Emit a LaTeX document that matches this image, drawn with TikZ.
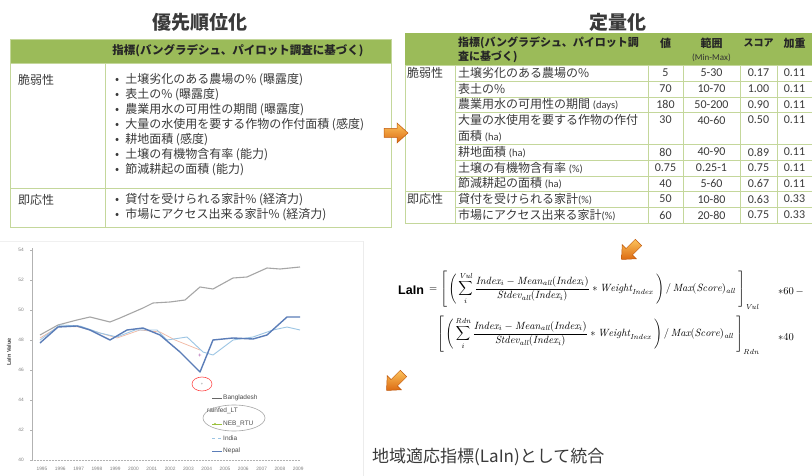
\RequirePackage{fix-cm}
\documentclass[tikz,border=0pt]{standalone}
\usepackage{fontspec}
\usetikzlibrary{shapes.geometric}
\newfontfamily\jp{Noto Sans CJK JP}
\newfontfamily\carl{Carlito}
\newfontfamily\lsans{Liberation Sans}
\definecolor{hdrgreen}{HTML}{9BBB59}
\definecolor{gridc}{HTML}{C4D79B}
\definecolor{txt}{HTML}{3A3A3A}
\definecolor{arrlight}{HTML}{FCC35C}
\definecolor{arrdark}{HTML}{DC6A12}
\definecolor{arredge}{HTML}{C0580C}
\definecolor{gray1}{HTML}{A6A6A6}
\definecolor{blue1}{HTML}{5B7DB8}
\definecolor{blue2}{HTML}{9CC5E4}
\definecolor{salmon}{HTML}{F2B8A2}
\definecolor{green1}{HTML}{9BC13C}
\newcommand{\lat}[1]{{\carl\fontsize{10.5}{12}\selectfont #1}}
\newcommand{\strutA}{\rule[-17pt]{0pt}{37pt}}
\newcommand{\strutB}{\rule[-13pt]{0pt}{29pt}}
\newcommand{\mi}[1]{\mathit{#1}}
\newcommand{\orarrow}[4]{%
  \begin{scope}[shift={(#2,#3)}, rotate=#4]
    \path[draw=arredge, line width=0.5pt, top color=arrlight, bottom color=arrdark]
      (-12,-4.5) -- (1,-4.5) -- (1,-10) -- (12,0) -- (1,10) -- (1,4.5) -- (-12,4.5) -- cycle;
    \coordinate (#1) at (0,0);
  \end{scope}}
\newcommand{\rrow}[7]{%
  \node[cell] (#1i) at (458,#2) {#3};
  \node[rnum] (#1v) at (665.5,#2) {#4};
  \node[rnum] (#1r) at (711.5,#2) {#5};
  \node[rnum] (#1s) at (758.5,#2) {#6};
  \node[rnum] (#1w) at (794.5,#2) {#7};}
\newcommand{\fbody}[1]{\left[\strutA\left(\strutB\displaystyle\sum_{i}^{\mi{#1}}\frac{\mi{Index}_i-\mi{Mean}_{\mi{all}}(\mi{Index}_i)}{\mi{Stdev}_{\mi{all}}(\mi{Index}_i)}*\mi{Weight}_{\mi{Index}}\;\right)/\,\mi{Max}(\mi{Score})_{\mi{all}}\;\right]_{\mi{#1}}}
\begin{document}
\begin{tikzpicture}[x=1pt, y=-1pt,
  title/.style={font=\jp\bfseries\fontsize{19}{21}\selectfont, text=txt, inner sep=0pt},
  hdr/.style={font=\jp\bfseries\fontsize{11}{13}\selectfont, text=black!85, inner sep=0pt},
  cell/.style={font=\jp\fontsize{12}{14}\selectfont, text=txt, inner sep=0pt, anchor=west},
  rnum/.style={font=\carl\fontsize{12}{14}\selectfont, text=txt, inner sep=0pt},
  tline/.style={draw=gridc, line width=0.8pt},
  ax/.style={font=\lsans\fontsize{4.8}{5}\selectfont, text=gray, inner sep=0pt},
  leg/.style={font=\lsans\fontsize{6.5}{7}\selectfont, text=black!70, inner sep=0pt, anchor=west},
  fml/.style={anchor=west, inner sep=0pt, font=\fontsize{10.5}{12}\selectfont},
]
\useasboundingbox[fill=white] (0,0) rectangle (812,476);

% ---------- left table ----------
\node[title] (t1) at (200,22) {優先順位化};
\fill[hdrgreen] (10,39) rectangle (391,63);
\draw[tline] (10,39) rectangle (391,227);
\draw[tline] (10,63) -- (391,63);
\draw[tline] (105,63) -- (105,227);
\draw[tline] (10,188) -- (391,188);
\node[hdr, font=\jp\bfseries\fontsize{11.5}{13}\selectfont] (lh) at (238,51) {指標(バングラデシュ、パイロット調査に基づく)};
\node[cell] (lv) at (18,80) {脆弱性};
\node[cell] (lr) at (18,200) {即応性};
\foreach \t [count=\k] in {土壌劣化のある農場の\% (曝露度), 表土の\% (曝露度), 農業用水の可用性の期間 (曝露度), 大量の水使用を要する作物の作付面積 (感度), 耕地面積 (感度), 土壌の有機物含有率 (能力), 節減耕起の面積 (能力)}
  \node[cell] (lb\k) at (115,{80+15*(\k-1)}) {\textbullet\hspace{6pt}\t};
\node[cell] (lc1) at (115,200) {\textbullet\hspace{6pt}貸付を受けられる家計\% (経済力)};
\node[cell] (lc2) at (115,215) {\textbullet\hspace{6pt}市場にアクセス出来る家計\% (経済力)};

% ---------- right table ----------
\node[title] (t2) at (618,22) {定量化};
\fill[hdrgreen] (405,33) rectangle (812,65);
\foreach \yy in {81,97,112,144,160,176,207} \draw[tline] (455,\yy) -- (812,\yy);
\foreach \yy in {65,191,223} \draw[tline] (405,\yy) -- (812,\yy);
\foreach \xx in {405,455,648,683,740,777} \draw[tline] (\xx,65) -- (\xx,223);
\node[hdr, anchor=west] (rh1) at (458,43) {指標(バングラデシュ、パイロット調};
\node[hdr, anchor=west] (rh2) at (458,57) {査に基づく)};
\node[hdr] (rhv) at (665.5,43) {値};
\node[hdr] (rhr) at (711.5,43) {範囲};
\node[font=\carl\fontsize{9}{10}\selectfont, text=black!80, inner sep=0pt] (rhm) at (711.5,58) {(Min-Max)};
\node[hdr, font=\jp\bfseries\fontsize{10}{12}\selectfont] (rhs) at (758.5,43) {スコア};
\node[hdr] (rhw) at (794.5,43) {加重};
\node[cell] (rv) at (407,73) {脆弱性};
\node[cell] (rr) at (407,199) {即応性};
\rrow{ra}{73}{土壌劣化のある農場の\%}{5}{5-30}{0.17}{0.11}
\rrow{rb}{89}{表土の\%}{70}{10-70}{1.00}{0.11}
\rrow{rc}{104.5}{農業用水の可用性の期間 \lat{(days)}}{180}{50-200}{0.90}{0.11}
\rrow{rd}{120}{大量の水使用を要する作物の作付}{30}{40-60}{0.50}{0.11}
\node[cell] (rd2) at (458,136) {面積 \lat{(ha)}};
\rrow{re}{152}{耕地面積 \lat{(ha)}}{80}{40-90}{0.89}{0.11}
\rrow{rf}{168}{土壌の有機物含有率 \lat{(\%)}}{0.75}{0.25-1}{0.75}{0.11}
\rrow{rg}{183.5}{節減耕起の面積 \lat{(ha)}}{40}{5-60}{0.67}{0.11}
\rrow{rh}{199}{貸付を受けられる家計\lat{(\%)}}{50}{10-80}{0.63}{0.33}
\rrow{rk}{215}{市場にアクセス出来る家計\lat{(\%)}}{60}{20-80}{0.75}{0.33}

% ---------- orange arrows ----------
\orarrow{a1}{396}{133}{0}
\orarrow{a2}{630}{251}{225}
\orarrow{a3}{395}{382}{225}

% ---------- formula ----------
\node[anchor=west, inner sep=0pt, font=\lsans\bfseries\fontsize{12.5}{14}\selectfont] (lain) at (398,290) {LaIn};
\node[fml] (f1) at (429,290) {$=\fbody{Vul}$};
\node[fml] (f1b) at (778,292) {$*60\,-$};
\node[fml] (f2) at (437,335) {$\fbody{Rdn}$};
\node[fml] (f2b) at (778,337) {$*40$};

\node[anchor=west, inner sep=0pt, font=\jp\fontsize{17}{19}\selectfont, text=txt] (integ) at (372,457) {地域適応指標(LaIn)として統合};

% ---------- chart ----------
\draw[gray!12] (0,241) -- (363,241);
\draw[gray!15] (363,241) -- (363,476);
\draw[gray!60, line width=0.4pt] (32,248) -- (32,460);
\foreach \v [count=\k] in {54,52,50,48,46,44,42,40} {
  \node[ax, anchor=east] (yl\k) at (24,{250+30*(\k-1)}) {\v};
  \draw[gray!60, line width=0.4pt] (30,{250+30*(\k-1)}) -- (32,{250+30*(\k-1)});
}
\node[ax, rotate=90, font=\lsans\bfseries\fontsize{5.5}{6}\selectfont, text=black!75] (ylab) at (9,352) {LaIn Value};
\draw[gray!60, densely dotted, line width=0.5pt] (32,460) -- (300,460);
\foreach \yr [count=\k] in {1995,...,2009}
  \node[ax] (xl\k) at ({42+18.3*(\k-1)},469) {\yr};

\draw[gray1, line width=1.1pt, line join=round] (40,335) -- (58,325) -- (77,320) -- (90,317) -- (110,322) -- (120,318) -- (143,308) -- (153,303) -- (170,302) -- (185,300) -- (200,287) -- (213,289) -- (233,278) -- (247,277) -- (267,268) -- (280,269) -- (300,267);
\draw[salmon, line width=0.7pt, line join=round] (40,338) -- (60,326) -- (80,327) -- (100,333) -- (117,338) -- (140,330) -- (160,332) -- (175,340) -- (200,350);
\draw[blue2, line width=0.9pt, line join=round] (40,340) -- (60,325) -- (80,326) -- (100,333) -- (117,337) -- (135,330) -- (157,330) -- (167,340) -- (187,337) -- (203,352) -- (213,355) -- (233,340) -- (253,337) -- (273,330) -- (287,327) -- (300,330);
\draw[blue1, line width=1.4pt, line join=round] (40,343) -- (58,327) -- (77,326) -- (90,330) -- (110,340) -- (127,330) -- (143,328) -- (160,335) -- (180,352) -- (200,372) -- (213,340) -- (233,338) -- (253,339) -- (267,335) -- (287,317) -- (300,317);

\node[font=\lsans\fontsize{6}{6}\selectfont, text=violet!70, inner sep=0pt] (plus) at (200,356) {+};
\node[draw=red!70, ellipse, minimum width=20pt, minimum height=14pt, inner sep=0pt, line width=0.6pt, font=\lsans\fontsize{4}{4}\selectfont, text=gray] (redc) at (202,384) {+};

% legend
\node[draw=gray!70, ellipse, minimum width=62pt, minimum height=26pt, inner sep=0pt, line width=0.6pt] (legc) at (234,418) {};
\draw[gray!80!black, line width=0.8pt] (212,398) -- (222,398);
\node[leg] (lg1) at (223,398) {Bangladesh};
\node[leg] (lg2) at (207,411) {rainfed\_LT};
\draw[green1, line width=0.8pt] (212,424) -- (222,424);
\fill[green1] (215,424) circle (1.2pt);
\node[leg] (lg3) at (223,424) {NEB\_RTU};
\draw[blue2, line width=0.8pt, dashed] (212,438) -- (222,438);
\node[leg] (lg4) at (223,438) {India};
\draw[blue1, line width=0.8pt] (212,451) -- (222,451);
\node[leg] (lg5) at (223,451) {Nepal};
\end{tikzpicture}
\end{document}
